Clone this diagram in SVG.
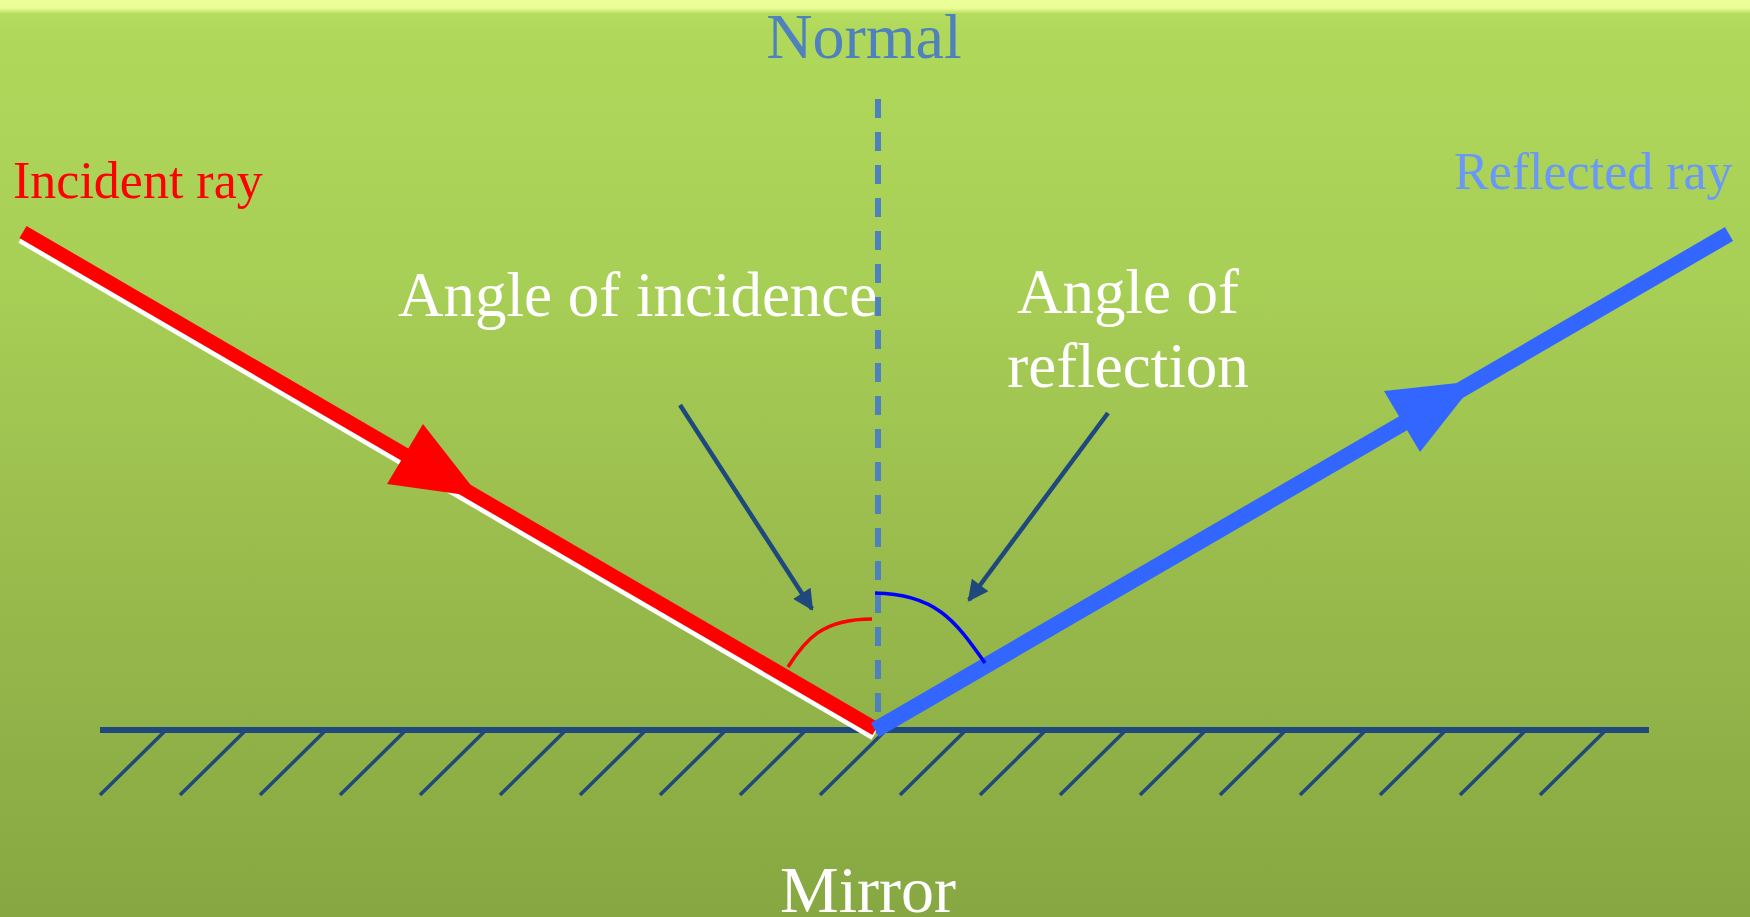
<svg xmlns="http://www.w3.org/2000/svg" width="1750" height="917" viewBox="0 0 1750 917">
<defs>
  <linearGradient id="bg" x1="0" y1="0" x2="0" y2="1">
    <stop offset="0" stop-color="#eeff9a"/>
    <stop offset="0.009" stop-color="#eafc94"/>
    <stop offset="0.015" stop-color="#b4dc5e"/>
    <stop offset="0.035" stop-color="#b0d85a"/>
    <stop offset="0.3" stop-color="#a8cf56"/>
    <stop offset="0.6" stop-color="#9abc4d"/>
    <stop offset="1" stop-color="#87a742"/>
  </linearGradient>
  <marker id="ptr" viewBox="0 0 10 10" refX="9" refY="5" markerWidth="5" markerHeight="4.6" orient="auto" markerUnits="strokeWidth">
    <path d="M0,0 L10,5 L0,10 z" fill="#1f497d"/>
  </marker>
  <style>
    .lbl { font-family: "Liberation Serif", "Times New Roman", serif; }
    .white { fill: #ffffff; font-size: 63px; }
    .hatch { stroke: #1f497d; stroke-width: 3.5; }
    .pointer { stroke: #1f497d; stroke-width: 4.5; fill: none; }
  </style>
</defs>
<rect x="0" y="0" width="1750" height="917" fill="url(#bg)"/>

<g id="mirror">
  <line x1="100" y1="730" x2="1649" y2="730" stroke="#1f497d" stroke-width="6"/>
  <g class="hatch">
    <line x1="100" y1="795" x2="165" y2="731"/>
    <line x1="180" y1="795" x2="245" y2="731"/>
    <line x1="260" y1="795" x2="325" y2="731"/>
    <line x1="340" y1="795" x2="405" y2="731"/>
    <line x1="420" y1="795" x2="485" y2="731"/>
    <line x1="500" y1="795" x2="565" y2="731"/>
    <line x1="580" y1="795" x2="645" y2="731"/>
    <line x1="660" y1="795" x2="725" y2="731"/>
    <line x1="740" y1="795" x2="805" y2="731"/>
    <line x1="820" y1="795" x2="885" y2="731"/>
    <line x1="900" y1="795" x2="965" y2="731"/>
    <line x1="980" y1="795" x2="1045" y2="731"/>
    <line x1="1060" y1="795" x2="1125" y2="731"/>
    <line x1="1140" y1="795" x2="1205" y2="731"/>
    <line x1="1220" y1="795" x2="1285" y2="731"/>
    <line x1="1300" y1="795" x2="1365" y2="731"/>
    <line x1="1380" y1="795" x2="1445" y2="731"/>
    <line x1="1460" y1="795" x2="1525" y2="731"/>
    <line x1="1540" y1="795" x2="1605" y2="731"/>
  </g>
  <text class="lbl" x="868" y="912" text-anchor="middle" font-size="66" fill="#ffffff">Mirror</text>
</g>

<g id="normal">
  <line x1="878" y1="99" x2="878" y2="730" stroke="#4f81bd" stroke-width="6" stroke-dasharray="19 14"/>
  <text class="lbl" x="864" y="58" text-anchor="middle" font-size="64" fill="#4f81bd">Normal</text>
</g>

<g id="incident-ray">
  <line x1="23" y1="235" x2="876" y2="732" stroke="#ffffff" stroke-width="18"/>
  <line x1="23" y1="232" x2="876" y2="729" stroke="#ff0000" stroke-width="14"/>
  <polygon points="423,424 387,484 480,497" fill="#ff0000"/>
  <text class="lbl" x="13" y="198" font-size="52" fill="#ff0000">Incident ray</text>
</g>

<g id="reflected-ray">
  <line x1="875" y1="730" x2="1729" y2="234" stroke="#3366ff" stroke-width="16"/>
  <polygon points="1384,391 1420,452 1476,381" fill="#3366ff"/>
  <text class="lbl" x="1454" y="189" font-size="52" fill="#6a98f8">Reflected ray</text>
</g>

<g id="angle-incidence">
  <path d="M788,667 C805,640 822,619 872,619" fill="none" stroke="#ff0000" stroke-width="3.5"/>
  <text class="lbl white" x="398" y="316">Angle of incidence</text>
</g>

<g id="angle-reflection">
  <path d="M875,593 C935,594 955,620 985,663" fill="none" stroke="#0000ff" stroke-width="3.5"/>
  <text class="lbl white" x="1128" y="313" text-anchor="middle">Angle of</text>
  <text class="lbl white" x="1128" y="387" text-anchor="middle">reflection</text>
</g>

<g id="connectors">
  <line class="pointer" x1="680" y1="405" x2="812" y2="609" marker-end="url(#ptr)"/>
  <line class="pointer" x1="1108" y1="413" x2="969" y2="600" marker-end="url(#ptr)"/>
</g>
</svg>
